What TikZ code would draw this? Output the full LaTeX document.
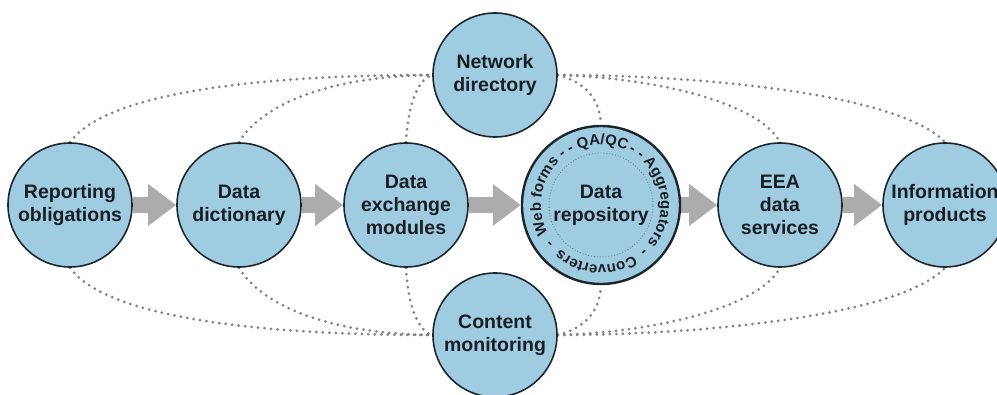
\documentclass[tikz,border=0pt]{standalone}
\usepackage{fontspec}
\setmainfont{Liberation Sans}
\usetikzlibrary{arrows.meta,decorations.text,calc,backgrounds}
\definecolor{bubble}{RGB}{160,204,225}
\definecolor{rim}{RGB}{28,38,46}
\definecolor{flow}{RGB}{172,172,172}
\definecolor{link}{RGB}{128,128,128}
\definecolor{ink}{RGB}{25,30,35}
\definecolor{innerdots}{RGB}{110,130,140}

\begin{document}
\begin{tikzpicture}[x=1pt,y=1pt,
  bubble/.style={circle, fill=bubble, draw=rim, line width=1.6pt, minimum size=124pt,
    inner sep=0pt, align=center, text=ink, font=\bfseries\fontsize{19.5}{23}\selectfont},
  flowarrow/.style={draw=flow, line width=16pt, -{Triangle[length=28pt,width=40pt]}},
  linkline/.style={draw=link, line width=3pt, line cap=round, dash pattern=on 0pt off 6.5pt},
  ringtext/.style={decorate, decoration={text along path, text align=center,
    text={|\color{ink}\bfseries\fontsize{15}{15}\selectfont|#1}}},
]
\clip (0,0) rectangle (997,394);

% process chain
\node[bubble] (rep)  at (70,189)  {Reporting\\obligations};
\node[bubble] (dict) at (239,189) {Data\\dictionary};
\node[bubble] (dex)  at (406,189) {Data\\exchange\\modules};
\node[bubble, minimum size=158pt, line width=2.4pt] (repo) at (601,189) {Data\\repository};
\node[bubble] (eea)  at (780,189) {EEA\\data\\services};
\node[bubble] (info) at (945,189) {Information\\products};

% supporting services
\node[bubble] (net) at (495,319) {Network\\directory};
\node[bubble] (mon) at (495,59)  {Content\\monitoring};

% inner ring of the repository
\draw[draw=innerdots, line width=0.9pt, dash pattern=on 0.9pt off 2pt] (repo.center) circle[radius=52pt];

% tools written round the repository, clockwise
\path[ringtext={Web forms}]   ($(repo.center)+(231:60pt)$) arc[start angle=231, end angle=111, radius=60pt];
\path[ringtext={- -}]         ($(repo.center)+(153:60pt)$) arc[start angle=153, end angle=93, radius=60pt];
\path[ringtext={QA/QC}]       ($(repo.center)+(148.5:60pt)$) arc[start angle=148.5, end angle=28.5, radius=60pt];
\path[ringtext={- -}]         ($(repo.center)+(86:60pt)$)  arc[start angle=86, end angle=26, radius=60pt];
\path[ringtext={Aggregators}] ($(repo.center)+(63:60pt)$)  arc[start angle=63, end angle=-57, radius=60pt];
\path[ringtext={-}]           ($(repo.center)+(-18:60pt)$) arc[start angle=-18, end angle=-78, radius=60pt];
\path[ringtext={Converters}]  ($(repo.center)+(-35:60pt)$) arc[start angle=-35, end angle=-155, radius=60pt];
\path[ringtext={-}]           ($(repo.center)+(-113:60pt)$) arc[start angle=-113, end angle=-173, radius=60pt];

\begin{scope}[on background layer]
  \fill[white] (0,0) rectangle (997,394);

  % flow arrows
  \draw[flowarrow] (rep)  -- (dict);
  \draw[flowarrow] (dict) -- (dex);
  \draw[flowarrow] (dex)  -- (repo);
  \draw[flowarrow] (repo) -- (eea);
  \draw[flowarrow] (eea)  -- (info);

  % links to the network directory
  \draw[linkline] (rep.north)  .. controls (105,300) and (250,319) .. (net.west);
  \draw[linkline] (dict.north) .. controls (262,290) and (330,318) .. (net.west);
  \draw[linkline] (dex.north)  .. controls (408,290) and (418,315) .. (net.west);
  \draw[linkline] (net.east) .. controls (585,312) and (600,295) .. (repo.north);
  \draw[linkline] (net.east) .. controls (660,316) and (760,290) .. (eea.north);
  \draw[linkline] (net.east) .. controls (700,319) and (900,300) .. (info.north);

  % links to content monitoring
  \draw[linkline] (rep.south)  .. controls (105,78) and (250,59) .. (mon.west);
  \draw[linkline] (dict.south) .. controls (262,88) and (330,60) .. (mon.west);
  \draw[linkline] (dex.south)  .. controls (408,88) and (418,63) .. (mon.west);
  \draw[linkline] (mon.east) .. controls (585,66) and (600,83) .. (repo.south);
  \draw[linkline] (mon.east) .. controls (660,62) and (760,88) .. (eea.south);
  \draw[linkline] (mon.east) .. controls (700,59) and (900,78) .. (info.south);
\end{scope}
\end{tikzpicture}
\end{document}
